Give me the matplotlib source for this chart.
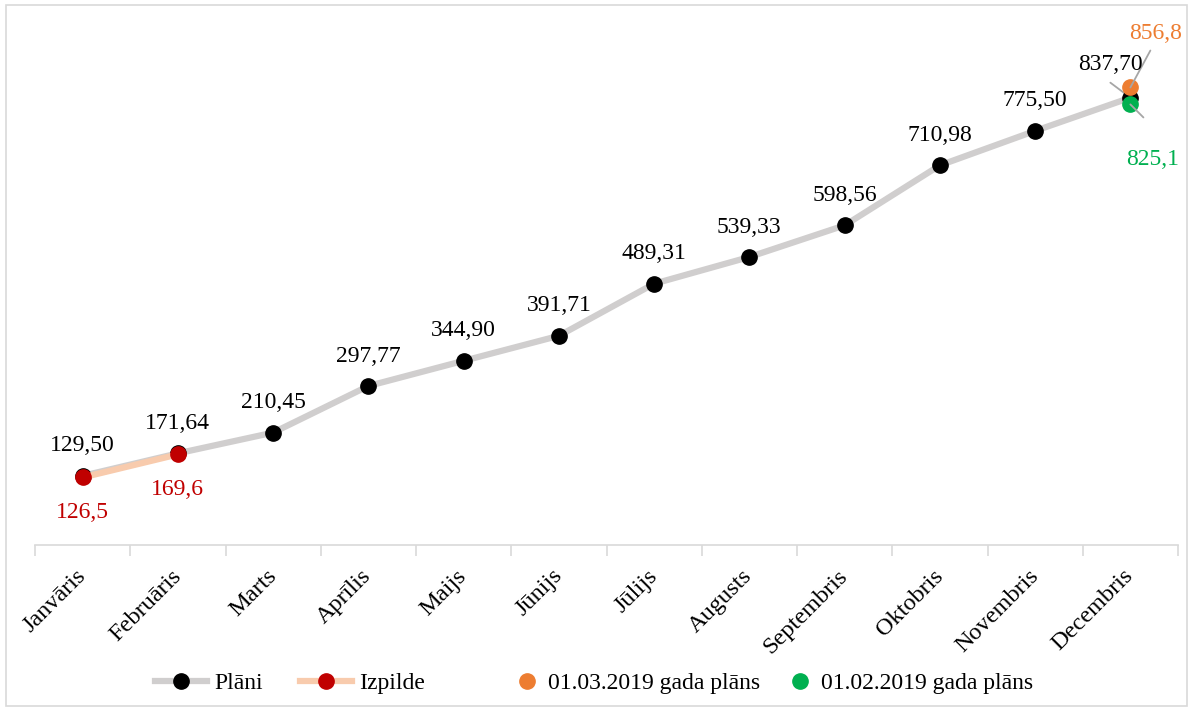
import matplotlib
matplotlib.use("Agg")
import matplotlib.pyplot as plt
from matplotlib.lines import Line2D
from matplotlib.patches import Rectangle
from matplotlib.transforms import offset_copy

plt.rcParams['font.family'] = ['Liberation Serif', 'DejaVu Serif']

months = ["Janvāris", "Februāris", "Marts", "Aprīlis", "Maijs", "Jūnijs",
          "Jūlijs", "Augusts", "Septembris", "Oktobris", "Novembris", "Decembris"]
plani = [129.50, 171.64, 210.45, 297.77, 344.90, 391.71, 489.31, 539.33,
         598.56, 710.98, 775.50, 837.70]
izpilde = [126.5, 169.6]
plan_0103 = 856.8
plan_0102 = 825.1

fig = plt.figure(figsize=(11.92, 7.11), dpi=100)
ax = fig.add_axes([35/1192, 1-545/711, (1178-35)/1192, (545-11)/711])
fig.patches.append(Rectangle((6/1192, 5/711), 1181/1192, 701/711, transform=fig.transFigure,
                             fill=False, edgecolor='#D9D9D9', linewidth=1.2))

x = list(range(len(months)))
gray = '#D0CECE'
peach = '#F8CBAD'
red = '#C00000'
orange = '#ED7D31'
green = '#00B050'
ax.plot(x, plani, color=gray, lw=4.5, marker='o', ms=11, mfc='black', mec='black', zorder=2)
ax.plot(x[:len(izpilde)], izpilde, color=peach, lw=4.5, marker='o', ms=11,
        mfc=red, mec=red, zorder=3)
ax.plot([11], [plan_0103], ls='none', marker='o', ms=11, mfc=orange, mec=orange, zorder=4)
ax.plot([11], [plan_0102], ls='none', marker='o', ms=11, mfc=green, mec=green, zorder=4)

fs = 17
for i, v in enumerate(plani[:-1]):
    ax.annotate(f"{v:.2f}".replace('.', ','), (i, v), xytext=(0, 14), textcoords='offset points',
                ha='center', va='bottom', fontsize=fs, color='black')
for i, v in enumerate(izpilde):
    ax.annotate(f"{v:.1f}".replace('.', ','), (i, v), xytext=(0, -18), textcoords='offset points',
                ha='center', va='top', fontsize=fs, color=red)

lc = '#A6A6A6'
for v, (x0, y0), (x1, y1), z in [(plani[-1], (-14.4, 10.8), (-2, 1.5), 1),
                                 (plan_0103, (0, 0), (14.4, 26.6), 5),
                                 (plan_0102, (0, 0), (9.4, -9.4), 5)]:
    ax.annotate('', xy=(11, v), xycoords=offset_copy(ax.transData, fig, x=x1, y=y1, units='points'),
                xytext=(11, v), textcoords=offset_copy(ax.transData, fig, x=x0, y=y0, units='points'),
                arrowprops=dict(arrowstyle='-', color=lc, lw=1.3, shrinkA=0, shrinkB=0),
                zorder=z)

ax.annotate(f"{plani[-1]:.2f}".replace('.', ','), (11, plani[-1]), xytext=(-14.4, 23.8),
            textcoords='offset points', ha='center', va='center', fontsize=fs, color='black',
            zorder=5)
ax.annotate(f"{plan_0103:.1f}".replace('.', ','), (11, plan_0103), xytext=(18, 38.5),
            textcoords='offset points', ha='center', va='center', fontsize=fs, color=orange,
            zorder=5)
ax.annotate(f"{plan_0102:.1f}".replace('.', ','), (11, plan_0102), xytext=(15.8, -39.6),
            textcoords='offset points', ha='center', va='center', fontsize=fs, color=green,
            zorder=5)

ax.set_xlim(-0.5, 11.5)
ax.set_ylim(0, 1000)
ax.set_yticks([])
for s in ['top', 'right', 'left']:
    ax.spines[s].set_visible(False)
ax.spines['bottom'].set_color('#D9D9D9')
ax.spines['bottom'].set_linewidth(1.2)
ax.set_xticks(x)
ax.set_xticklabels(months, rotation=45, ha='right', va='center', rotation_mode='anchor',
                   fontsize=17.5)
ax.tick_params(axis='x', which='major', length=0, pad=20)
ax.set_xticks([i - 0.5 for i in range(13)], minor=True)
ax.tick_params(axis='x', which='minor', length=8, color='#D9D9D9', width=1.2)
ax.patch.set_alpha(0)

handles = [
    Line2D([], [], color=gray, lw=4.5, marker='o', ms=11, mfc='black', mec='black'),
    Line2D([], [], color=peach, lw=4.5, marker='o', ms=11, mfc=red, mec=red),
    Line2D([], [], ls='none', marker='o', ms=11, mfc=orange, mec=orange),
    Line2D([], [], ls='none', marker='o', ms=11, mfc=green, mec=green),
]
labels = ["Plāni", "Izpilde", "01.03.2019 gada plāns", "01.02.2019 gada plāns"]
starts = [155, 300, 513, 786]
hlens = [2.2, 2.2, 1.18, 1.18]
for h, l, sx, hl in zip(handles, labels, starts, hlens):
    fig.legend([h], [l], loc='center left', bbox_to_anchor=(sx/1192, 1-683/711),
               frameon=False, fontsize=fs, handlelength=hl, handletextpad=0.3,
               borderpad=0, borderaxespad=0)

fig.savefig("out.png", dpi=100)
